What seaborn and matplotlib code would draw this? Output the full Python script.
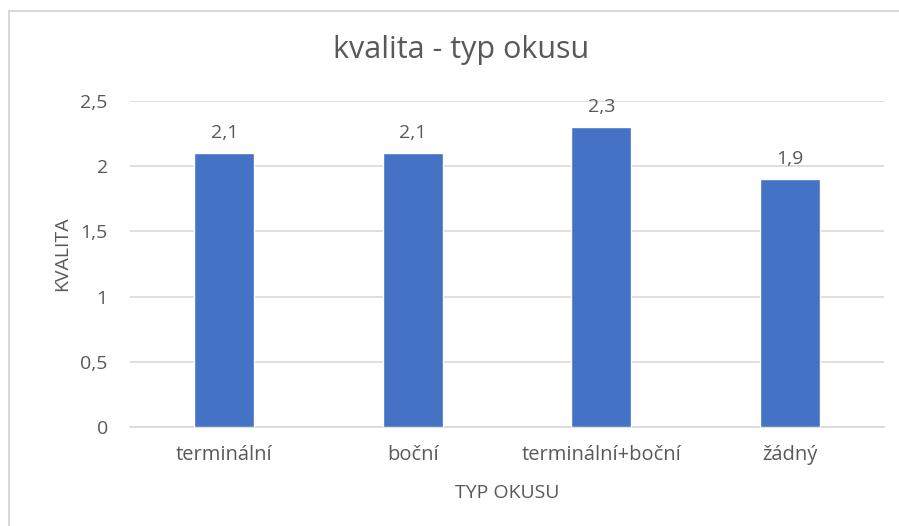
import matplotlib
matplotlib.use("Agg")
import matplotlib.pyplot as plt
import seaborn as sns
import pandas as pd
from matplotlib.lines import Line2D
from matplotlib.ticker import FuncFormatter

# data
categories = ["terminální", "boční", "terminální+boční", "žádný"]
kvalita = [2.1, 2.1, 2.3, 1.9]
y_ticks = [0, 0.5, 1, 1.5, 2, 2.5]

def cz(v, pos=None):
    # Czech decimal comma, no trailing zeros
    s = f"{v:g}"
    return s.replace(".", ",")

def main():
    sns.set_theme(style="white")
    plt.rcParams["font.family"] = ["Open Sans", "DejaVu Sans"]
    text_col = "#595959"
    grid_col = "#D9D9D9"

    df = pd.DataFrame({"typ": categories, "kvalita": kvalita})

    fig = plt.figure(figsize=(8.99, 5.26), dpi=100)
    ax_w = 884 - 130
    ax = fig.add_axes([130 / 899, 1 - 427 / 526, ax_w / 899, (427 - 101) / 526])

    sns.barplot(data=df, x="typ", y="kvalita", color="#4472C4", saturation=1,
                width=0.32, ax=ax, zorder=3)

    ax.set_ylim(0, 2.5)
    ax.set_yticks(y_ticks)
    ax.yaxis.set_major_formatter(FuncFormatter(cz))
    ax.grid(axis="y", color=grid_col, linewidth=1.2, zorder=0)
    ax.set_axisbelow(True)

    for side in ["top", "right", "left"]:
        ax.spines[side].set_visible(False)
    ax.spines["bottom"].set_color(grid_col)
    ax.spines["bottom"].set_linewidth(1.2)

    ax.tick_params(axis="y", length=0, pad=16, labelsize=14, labelcolor=text_col)
    ax.tick_params(axis="x", length=0, pad=13, labelsize=14.5, labelcolor=text_col)

    for c in ax.containers:
        ax.bar_label(c, labels=[cz(v) for v in kvalita], padding=8,
                     fontsize=14, color=text_col)

    ax.set_xlabel("TYP OKUSU", fontsize=14, color=text_col, labelpad=14)
    ax.set_ylabel("KVALITA", fontsize=14, color=text_col)
    ax.yaxis.set_label_coords((71 - 130) / ax_w, (427 - 254) / (427 - 101))

    fig.text(461 / 899, 1 - 50 / 526, "kvalita - typ okusu", ha="center", va="center",
             fontsize=22, color=text_col)

    # light chart-area frame (left and top edges visible in the crop)
    fig.add_artist(Line2D([8.5 / 899, 8.5 / 899], [0, 1 - 10.5 / 526],
                          transform=fig.transFigure, color=grid_col, lw=1.5))
    fig.add_artist(Line2D([8.5 / 899, 1], [1 - 10.5 / 526, 1 - 10.5 / 526],
                          transform=fig.transFigure, color=grid_col, lw=1.5))

    fig.savefig("out.png", dpi=100, facecolor="white")

if __name__ == "__main__":
    main()
